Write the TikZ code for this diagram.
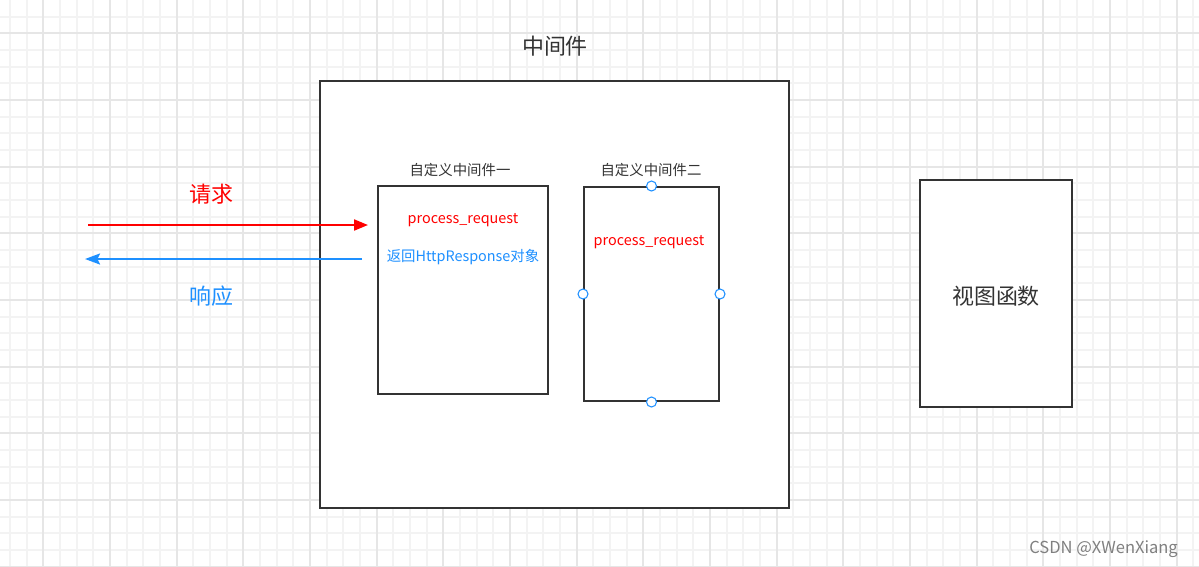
\documentclass[tikz,border=0pt]{standalone}
\usepackage{fontspec}
\setmainfont{Noto Sans CJK SC}
\usetikzlibrary{arrows.meta}
\definecolor{boxgray}{RGB}{51,51,51}
\definecolor{reqred}{RGB}{255,0,0}
\definecolor{resblue}{RGB}{30,144,255}
\definecolor{minorgray}{RGB}{243,243,243}
\definecolor{majorgray}{RGB}{230,230,230}
\tikzset{
  box/.style={draw=boxgray,line width=1.15pt,fill=white,inner sep=0pt},
  bigtext/.style={text=boxgray,font=\fontsize{12.5}{15}\selectfont},
  smalltext/.style={text=boxgray,font=\fontsize{8.2}{10}\selectfont},
  handle/.style={circle,draw=resblue,fill=white,line width=0.6pt,minimum size=0.2cm,inner sep=0pt},
}
\begin{document}
\begin{tikzpicture}[x=0.02cm,y=-0.02cm]
      \useasboundingbox (0,0) rectangle (1199,566);
      \fill[white] (0,0) rectangle (1199,566);

      % grid
      \foreach \i in {0,...,71} {
        \draw[minorgray,line width=1.1pt] ({10+\i*16.667},0) -- ({10+\i*16.667},566);
      }
      \foreach \j in {1,...,33} {
        \draw[minorgray,line width=1.1pt] (0,{\j*16.667}) -- (1199,{\j*16.667});
      }
      \foreach \i in {0,...,17} {
        \draw[majorgray,line width=1.1pt] ({43.33+\i*66.667},0) -- ({43.33+\i*66.667},566);
      }
      \foreach \j in {0,...,8} {
        \draw[majorgray,line width=1.1pt] (0,{33.33+\j*66.667}) -- (1199,{33.33+\j*66.667});
      }

      % boxes
      \node[box,minimum width=9.38cm,minimum height=8.54cm] (mw) at (554.5,294.5) {};
      \node[bigtext] (mwtitle) at (555,46) {中间件};
      \node[box,minimum width=3.4cm,minimum height=4.16cm] (mwone) at (463,290) {};
      \node[box,minimum width=2.7cm,minimum height=4.28cm] (mwtwo) at (651.5,294) {};
      \node[box,minimum width=3.04cm,minimum height=4.54cm] (view) at (996,293.5) {};

      % labels
      \node[smalltext] (onetitle) at (460,170) {自定义中间件一};
      \node[smalltext] (twotitle) at (651,170) {自定义中间件二};
      \node[smalltext,text=reqred] (onereq) at (463,220) {process\_request};
      \node[smalltext,text=resblue] (oneres) at (463,257) {返回HttpResponse对象};
      \node[smalltext,text=reqred] (tworeq) at (649,242) {process\_request};
      \node[bigtext] (viewtext) at (996,296) {视图函数};

      % handles
      \foreach \a in {north,south,west,east} {
        \node[handle] (h\a) at (mwtwo.\a) {};
      }

      % request / response
      \coordinate (reqstart) at (88,225);
      \coordinate (reqend) at (368,225);
      \coordinate (resstart) at (362,259);
      \coordinate (resend) at (85,259);
      \draw[reqred,line width=1.15pt,-{Triangle[length=0.28cm,width=0.22cm]}] (reqstart) -- (reqend);
      \draw[resblue,line width=1.15pt,-{Stealth[length=0.3cm,width=0.22cm,inset=0.05cm]}] (resstart) -- (resend);
      \node[bigtext,text=reqred] (reqtext) at (211,194) {请求};
      \node[bigtext,text=resblue] (restext) at (211,296) {响应};

      % watermark
      \node[anchor=east,text=gray,font=\fontsize{9.4}{11}\selectfont] (mark) at (1184,549) {CSDN @XWenXiang};
    \end{tikzpicture}
\end{document}
